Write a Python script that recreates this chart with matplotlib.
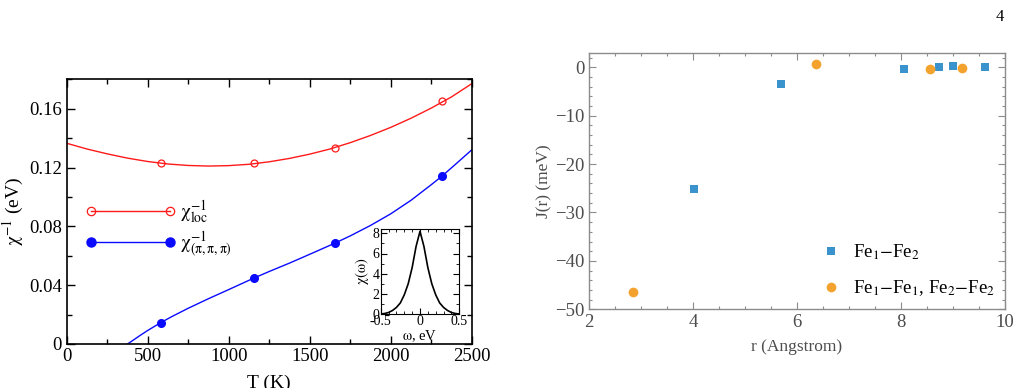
import matplotlib
matplotlib.use("Agg")
import matplotlib.pyplot as plt
from matplotlib.lines import Line2D
from matplotlib.ticker import MultipleLocator, FuncFormatter

plt.rcParams['font.family'] = ['Liberation Serif', 'DejaVu Serif']
plt.rcParams['mathtext.fontset'] = 'stix'

# ---------------- data: left panel ----------------
T_points = [580, 1158, 1654, 2317]
chi_loc_points = [0.1231, 0.1229, 0.1333, 0.1652]
chi_pi_points = [0.0145, 0.0449, 0.0685, 0.1142]

T_loc_curve = [0, 125, 250, 375, 500, 625, 750, 875, 1000, 1125, 1250, 1375,
               1500, 1625, 1750, 1875, 2000, 2125, 2250, 2375, 2500]
chi_loc_curve = [0.1365, 0.1326, 0.1293, 0.1264, 0.1241, 0.1224, 0.1214, 0.1210,
                 0.1213, 0.1222, 0.1239, 0.1262, 0.1291, 0.1326, 0.1369, 0.1418,
                 0.1473, 0.1535, 0.1604, 0.1680, 0.1770]

T_pi_curve = [376, 450, 500, 580, 650, 750, 875, 1000, 1157, 1250, 1375, 1500,
              1654, 1750, 1875, 2000, 2125, 2250, 2317, 2400, 2500]
chi_pi_curve = [0.0, 0.0056, 0.0092, 0.0145, 0.0187, 0.0243, 0.0308, 0.0370,
                0.0449, 0.0493, 0.0550, 0.0610, 0.0685, 0.0735, 0.0806, 0.0885,
                0.0977, 0.1083, 0.1142, 0.1222, 0.1320]

# inset
omega = [-0.5, -0.45, -0.4, -0.35, -0.3, -0.25, -0.2, -0.15, -0.1, -0.05, 0.0,
         0.05, 0.1, 0.15, 0.2, 0.25, 0.3, 0.35, 0.4, 0.45, 0.5]
chi_omega = [0.0, 0.05, 0.15, 0.35, 0.65, 1.1, 1.9, 3.0, 4.6, 6.7, 8.2,
             6.7, 4.6, 3.0, 1.9, 1.1, 0.65, 0.35, 0.15, 0.05, 0.0]

# ---------------- data: right panel ----------------
r_12 = [4.02, 5.69, 8.06, 8.73, 9.00, 9.62]
J_12 = [-25.1, -3.5, -0.3, 0.1, 0.3, 0.1]
r_11 = [2.85, 6.37, 8.55, 9.17]
J_11 = [-46.5, 0.7, -0.4, -0.15]

W, H = 1022, 388
fig = plt.figure(figsize=(W / 100, H / 100), dpi=100)

def px_axes(x0, y0, x1, y1):
    return fig.add_axes([x0 / W, 1 - y1 / H, (x1 - x0) / W, (y1 - y0) / H])

red = '#ff1a1a'
blue = '#0a0aff'

# ---------------- left panel ----------------
ax = px_axes(66.7, 79.3, 471.7, 344.0)
ax.plot(T_loc_curve, chi_loc_curve, color=red, lw=1.0)
ax.plot(T_points, chi_loc_points, 'o', mfc='none', mec=red, ms=5, mew=0.9)
ax.plot(T_pi_curve, chi_pi_curve, color=blue, lw=1.0)
ax.plot(T_points, chi_pi_points, 'o', color=blue, ms=5.5)
ax.set_xlim(0, 2500)
ax.set_ylim(0, 0.18)
ax.xaxis.set_major_locator(MultipleLocator(500))
ax.xaxis.set_minor_locator(MultipleLocator(250))
ax.yaxis.set_major_locator(MultipleLocator(0.04))
ax.yaxis.set_minor_locator(MultipleLocator(0.02))
ax.yaxis.set_major_formatter(FuncFormatter(lambda v, p: '0' if abs(v) < 1e-9 else f'{v:.2f}'))
ax.tick_params(which='both', direction='in', top=True, right=True, labelsize=13.5, width=1.0)
ax.tick_params(which='major', length=6)
ax.tick_params(which='minor', length=3.5)
ax.tick_params(axis='x', pad=3)
for s in ax.spines.values():
    s.set_linewidth(1.2)
ax.set_xlabel('T (K)', fontsize=14, labelpad=6.5)
ax.set_ylabel(r'$\mathrm{χ}^{-1}$ (eV)', fontsize=14, labelpad=2)

h1 = Line2D([], [], color=red, lw=1.0, marker='o', mfc='none', mec=red, ms=6, mew=0.9)
h2 = Line2D([], [], color=blue, lw=1.0, marker='o', ms=6.5)
ax.legend([h1, h2], [r'$\mathrm{χ}^{-1}_{\mathrm{loc}}$', r'$\mathrm{χ}^{-1}_{(\mathrm{π},\mathrm{π},\mathrm{π})}$'],
          numpoints=2, frameon=False, fontsize=14, handlelength=4.65,
          handletextpad=0.25, labelspacing=0.2,
          loc='upper left', bbox_to_anchor=(0.026, 0.58), borderaxespad=0)

# inset
ins = px_axes(380.7, 229.3, 459.3, 314.0)
ins.plot(omega, chi_omega, color='black', lw=1.2)
ins.set_xlim(-0.5, 0.5)
ins.set_ylim(0, 8.4)
ins.xaxis.set_major_locator(MultipleLocator(0.5))
ins.xaxis.set_minor_locator(MultipleLocator(0.1))
ins.yaxis.set_major_locator(MultipleLocator(2))
ins.yaxis.set_minor_locator(MultipleLocator(1))
ins.xaxis.set_major_formatter(FuncFormatter(lambda v, p: '0' if abs(v) < 1e-9 else f'{v:.1f}'))
ins.tick_params(which='both', direction='in', top=True, right=True, labelsize=10, pad=1)
ins.tick_params(which='major', length=4)
ins.tick_params(which='minor', length=2)
ins.set_xlabel(r'$\mathrm{ω}$, eV', fontsize=10.5, labelpad=0)
ins.set_ylabel(r'$\mathrm{χ(ω)}$', fontsize=10.5, labelpad=1)

# ---------------- right panel ----------------
c_blue = '#3a93cc'
c_orange = '#f4a22e'
gray_sp = '#8c8c8c'
gray_tx = '#4d4d4d'
ax2 = px_axes(589.0, 52.7, 1005.0, 309.3)
ax2.plot(r_12, J_12, 's', color=c_blue, ms=5.4, mew=0, label=r'Fe$_1$$-$Fe$_2$')
ax2.plot(r_11, J_11, 'o', color=c_orange, ms=7.0, mew=0,
         label=r'Fe$_1$$-$Fe$_1$, Fe$_2$$-$Fe$_2$')
ax2.set_xlim(2, 10)
ax2.set_ylim(-50, 3)
ax2.xaxis.set_major_locator(MultipleLocator(2))
ax2.xaxis.set_minor_locator(MultipleLocator(0.5))
ax2.yaxis.set_major_locator(MultipleLocator(10))
ax2.yaxis.set_minor_locator(MultipleLocator(2))
ax2.yaxis.set_major_formatter(FuncFormatter(lambda v, p: f'{int(round(v))}'.replace('-', '\u2212')))
ax2.tick_params(which='both', direction='in', top=True, right=True, labelsize=13.5,
                colors=gray_sp, labelcolor=gray_tx, width=0.8)
ax2.tick_params(which='major', length=5)
ax2.tick_params(which='minor', length=2.5)
for s in ax2.spines.values():
    s.set_color(gray_sp)
    s.set_linewidth(1.0)
ax2.set_xlabel('r (Angstrom)', fontsize=12.5, color=gray_tx, labelpad=6)
ax2.set_ylabel('J(r) (meV)', fontsize=12.5, color=gray_tx, labelpad=2)
ax2.legend(frameon=False, fontsize=13.5, loc='lower right', bbox_to_anchor=(1.003, 0.0),
           handlelength=1.0, handletextpad=0.65, labelspacing=0.85, borderaxespad=0.2)

fig.text(1000 / W, 1 - 17 / H, '4', fontsize=12, ha='center', va='center')

fig.savefig('out.png', dpi=100)
